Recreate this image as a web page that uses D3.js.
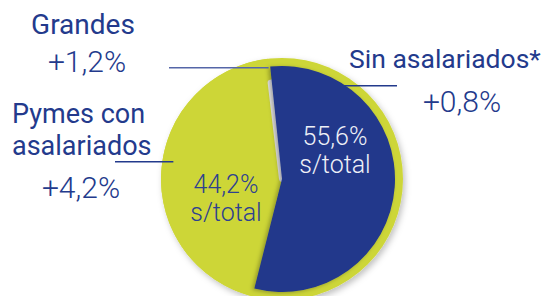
<!DOCTYPE html>
<html>
<head>
<meta charset="utf-8">
<script src="https://cdn.jsdelivr.net/npm/d3@7"></script>
<style>
  body { margin: 0; background: #fff; }
  text { font-family: Roboto, "Noto Sans", sans-serif; }
</style>
</head>
<body>
<div id="chart"></div>
<script>
// shares of total (%)
const segments = ["Sin asalariados*", "Pymes con asalariados", "Grandes"];
const shares = [55.6, 44.2, 0.2];
const shareLabels = ["55,6%", "44,2%", null];
const growth = ["+0,8%", "+4,2%", "+1,2%"];
const colors = ["#21378b", "#cdd637", "#e3e3e3"];

const width = 546,
  height = 296,
  cx = 282,
  cy = 179,
  outerR = 121,
  sliceR = [113, 121, 97];

const svg = d3.select("#chart")
  .append("svg")
  .attr("width", width)
  .attr("height", height);

const defs = svg.append("defs");
defs.append("filter").attr("id", "shadow")
  .attr("x", "-20%").attr("y", "-20%").attr("width", "140%").attr("height", "140%")
  .append("feDropShadow")
  .attr("dx", 2).attr("dy", 3).attr("stdDeviation", 3)
  .attr("flood-color", "#000").attr("flood-opacity", 0.25);
defs.append("filter").attr("id", "shadow2")
  .attr("x", "-20%").attr("y", "-20%").attr("width", "140%").attr("height", "140%")
  .append("feDropShadow")
  .attr("dx", -2).attr("dy", 1).attr("stdDeviation", 2)
  .attr("flood-color", "#000").attr("flood-opacity", 0.3);

const deg = Math.PI / 180;
const arcs = d3.pie().sort(null).startAngle(-6 * deg).endAngle(354 * deg)
  .value(d => d)(shares);

const g = svg.append("g").attr("transform", `translate(${cx},${cy})`);

// outer green disc
g.append("circle")
  .attr("r", outerR)
  .attr("fill", colors[1])
  .attr("filter", "url(#shadow)");

// draw green, sliver, then blue on top
const order = [1, 2, 0];
g.selectAll("path.slice")
  .data(order.map(i => arcs[i]))
  .join("path")
  .attr("class", "slice")
  .attr("fill", d => colors[d.index])
  .attr("stroke", d => d.index === 2 ? colors[2] : "none")
  .attr("stroke-width", d => d.index === 2 ? 6 : 0)
  .attr("stroke-linejoin", "round")
  .attr("filter", d => d.index === 0 ? "url(#shadow2)" : null)
  .attr("d", d => d3.arc().innerRadius(0).outerRadius(sliceR[d.index])(d));

// leader lines: from a point on the pie horizontally to the label
const leaders = [
  { i: 0, angle: 32, x2: 397, color: "#233a8c" },
  { i: 1, angle: 279, x2: 115, color: "#233a8c" },
  { i: 2, angle: null, x2: 169, color: "#5566a8" }
];
leaders.forEach(l => {
  const a = l.angle === null ? (arcs[l.i].startAngle + arcs[l.i].endAngle) / 2 - 0.5 * deg : l.angle * deg;
  const r = l.angle === null ? 112 : 110;
  const x1 = cx + r * Math.sin(a),
    y1 = cy - r * Math.cos(a);
  svg.append("line")
    .attr("x1", x1).attr("y1", y1)
    .attr("x2", l.x2).attr("y2", y1)
    .attr("stroke", l.color)
    .attr("stroke-width", 1.6);
});

// inside labels
const inside = [
  { i: 0, x: 335, y: 145, fill: "#eef0f7" },
  { i: 1, x: 226, y: 193, fill: "#2d4190" }
];
inside.forEach(t => {
  const txt = svg.append("text")
    .attr("text-anchor", "middle")
    .attr("font-size", 25)
    .attr("font-weight", 300)
    .attr("fill", t.fill);
  txt.append("tspan").attr("x", t.x).attr("y", t.y).text(shareLabels[t.i]);
  txt.append("tspan").attr("x", t.x).attr("y", t.y + 28).text("s/total");
});

// outside labels
const navy = "#233a8c";
const outside = [
  { lines: ["Sin asalariados*"], x: 349, y: 68, size: 26.5, anchor: "start", gx: 462, gy: 112, i: 0 },
  { lines: ["Pymes con", "asalariados"], x: 12, y: 123, size: 27, anchor: "start", gx: 81, gy: 198, i: 1 },
  { lines: ["Grandes"], x: 83, y: 34, size: 28, anchor: "middle", gx: 87, gy: 72, i: 2 }
];
outside.forEach(o => {
  svg.append("text")
    .attr("text-anchor", o.anchor)
    .attr("font-size", o.size)
    .attr("fill", navy)
    .selectAll("tspan")
    .data(o.lines)
    .join("tspan")
    .attr("x", o.x)
    .attr("y", (d, k) => o.y + k * 32)
    .text(d => d);
  svg.append("text")
    .attr("x", o.gx)
    .attr("y", o.gy)
    .attr("text-anchor", "middle")
    .attr("font-size", 30)
    .attr("font-weight", 300)
    .attr("fill", navy)
    .text(growth[o.i]);
});
</script>
</body>
</html>
